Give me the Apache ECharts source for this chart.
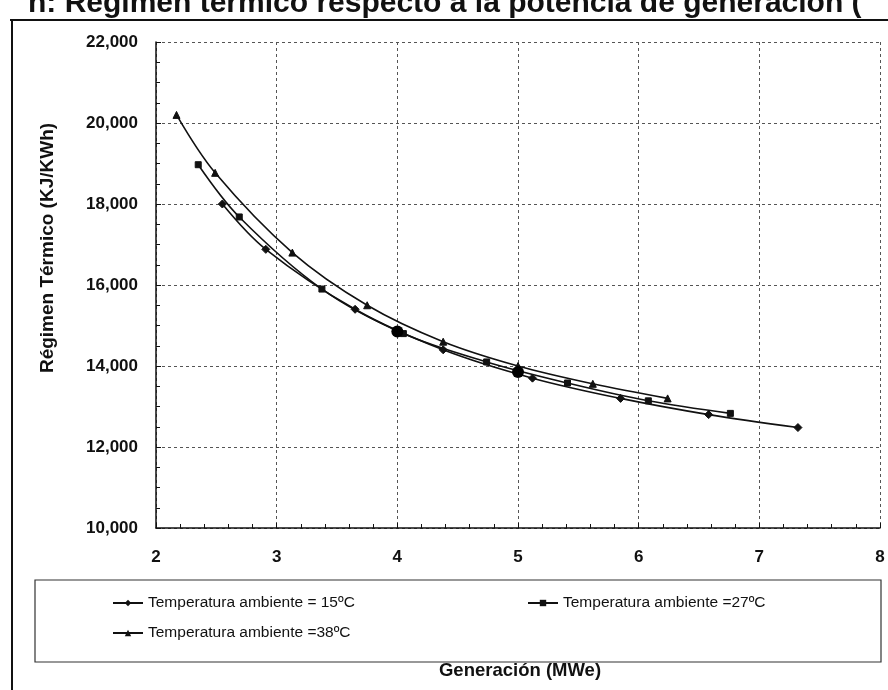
<!DOCTYPE html>
<html>
<head>
<meta charset="utf-8">
<script src="https://cdn.jsdelivr.net/npm/echarts@6/dist/echarts.min.js"></script>
<style>html,body{margin:0;padding:0;background:#fff}#c{width:888px;height:690px}</style>
</head>
<body>
<div id="c"></div>
<script>
// Data
const gen15 = [2.55, 2.91, 3.65, 4.38, 5.12, 5.85, 6.58, 7.32];
const reg15 = [18000, 16880, 15400, 14400, 13700, 13200, 12800, 12480];
const gen27 = [2.35, 2.69, 3.375, 4.05, 4.74, 5.41, 6.08, 6.76];
const reg27 = [18970, 17680, 15900, 14800, 14100, 13580, 13140, 12830];
const gen38 = [2.17, 2.49, 3.13, 3.75, 4.38, 5.0, 5.62, 6.24];
const reg38 = [20200, 18770, 16800, 15500, 14600, 14000, 13560, 13200];
const genPunto = [4.0, 5.0];
const regPunto = [14850, 13850];
const names = ['Temperatura ambiente = 15ºC', 'Temperatura ambiente =27ºC', 'Temperatura ambiente =38ºC'];
const titleText = 'n: Régimen térmico respecto a la potencia de generación (';
const yName = 'Régimen Térmico (KJ/KWh)';
const xName = 'Generación (MWe)';

const zip = (a, b) => a.map((v, i) => [v, b[i]]);
const FONT = '"Liberation Sans", Arial, sans-serif';

const chart = echarts.init(document.getElementById('c'), null, {renderer: 'canvas'});
const lineSeries = (name, xs, ys, symbol, size) => ({
  name, type: 'line', data: zip(xs, ys), smooth: 0.35,
  symbol, symbolSize: size, showSymbol: true,
  lineStyle: {color: '#111', width: 1.6},
  itemStyle: {color: '#111', borderColor: '#111'},
  emphasis: {disabled: true}, z: 3
});
const legendItem = (name, left, top) => ({
  data: [name], left, top, itemWidth: 30, itemHeight: 8, itemGap: 4,
  textStyle: {fontFamily: FONT, fontSize: 15.5, color: '#111'},
  selectedMode: false
});

chart.setOption({
  animation: false,
  backgroundColor: '#fff',
  grid: {left: 156, right: 8, top: 42, bottom: 162, containLabel: false},
  xAxis: {
    type: 'value', min: 2, max: 8, interval: 1,
    axisLine: {show: true, onZero: false, lineStyle: {color: '#111', width: 1.5}},
    axisTick: {show: true, inside: true, length: 5, lineStyle: {color: '#111'}},
    minorTick: {show: true, splitNumber: 5, length: 4, lineStyle: {color: '#111'}},
    axisLabel: {fontFamily: FONT, fontSize: 17, fontWeight: 'bold', color: '#111', margin: 21},
    splitLine: {show: true, lineStyle: {color: '#555', width: 1, type: [3, 3]}}
  },
  yAxis: {
    type: 'value', min: 10000, max: 22000, interval: 2000,
    axisLine: {show: true, lineStyle: {color: '#111', width: 1.5}},
    axisTick: {show: true, inside: true, length: 5, lineStyle: {color: '#111'}},
    minorTick: {show: true, splitNumber: 4, length: 4, lineStyle: {color: '#111'}},
    axisLabel: {fontFamily: FONT, fontSize: 17, fontWeight: 'bold', color: '#111', margin: 18,
      formatter: v => v.toLocaleString('en-US')},
    splitLine: {show: true, lineStyle: {color: '#555', width: 1, type: [3, 3]}}
  },
  legend: [
    legendItem(names[0], 107, 590),
    legendItem(names[1], 522, 590),
    legendItem(names[2], 107, 620)
  ],
  series: [
    lineSeries(names[0], gen15, reg15, 'diamond', 8),
    lineSeries(names[1], gen27, reg27, 'rect', 6),
    lineSeries(names[2], gen38, reg38, 'triangle', 7),
    {name: 'punto', type: 'scatter', data: zip(genPunto, regPunto), symbol: 'circle', symbolSize: 12,
     itemStyle: {color: '#000', opacity: 1}, emphasis: {disabled: true}, z: 5}
  ],
  graphic: [
    {type: 'text', x: 28, y: -11, style: {text: titleText, font: 'bold 30px ' + FONT, fill: '#111'}, z: 10},
    {type: 'line', shape: {x1: 10, y1: 20, x2: 888, y2: 20}, style: {stroke: '#111', lineWidth: 2}, z: 9},
    {type: 'line', shape: {x1: 12, y1: 20, x2: 12, y2: 690}, style: {stroke: '#111', lineWidth: 2}, z: 9},
    {type: 'rect', shape: {x: 35, y: 580, width: 846, height: 82},
     style: {fill: 'none', stroke: '#333', lineWidth: 1.2}, z: 1},
    {type: 'text', x: 48, y: 248, rotation: Math.PI / 2,
     style: {text: yName, font: 'bold 19px ' + FONT, fill: '#111', align: 'center', verticalAlign: 'middle'}, z: 10},
    {type: 'text', x: 520, y: 671,
     style: {text: xName, font: 'bold 18.5px ' + FONT, fill: '#111', align: 'center', verticalAlign: 'middle'}, z: 10}
  ]
});
</script>
</body>
</html>
